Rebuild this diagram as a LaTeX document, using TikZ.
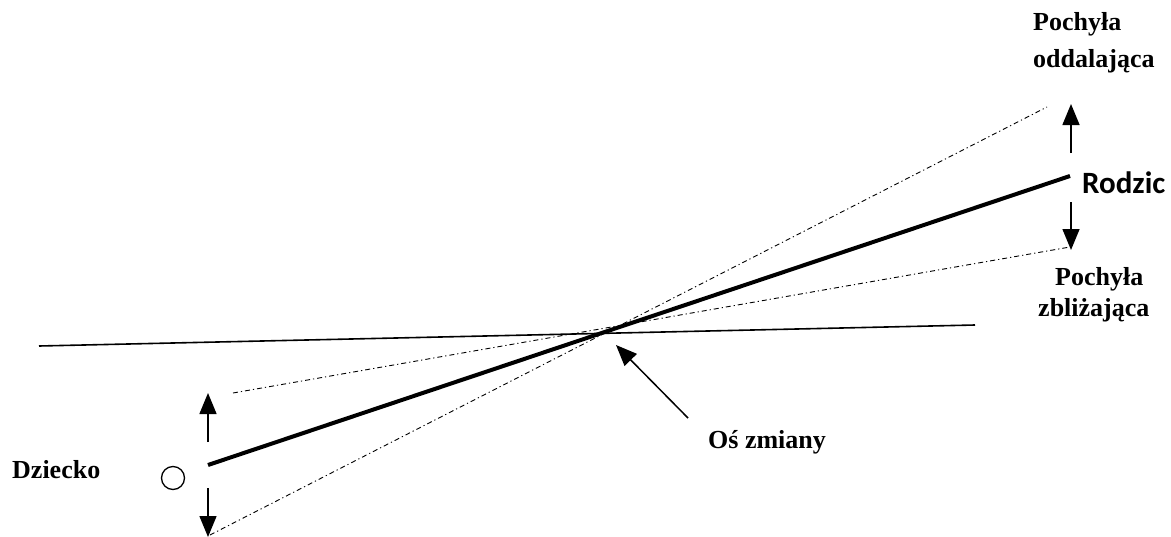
\documentclass[tikz,border=0pt]{standalone}
\usepackage{fontspec}
\setmainfont{Liberation Serif}
\newfontfamily\sansb{Carlito}
\usetikzlibrary{arrows.meta}
\tikzset{
  lbl/.style={font=\fontsize{26}{30}\selectfont\bfseries, inner sep=0pt, anchor=base west},
  slbl/.style={font=\fontsize{31}{35}\selectfont\sansb\bfseries, inner sep=0pt, anchor=base west},
  thinline/.style={line width=1.6pt},
  thickline/.style={line width=4pt},
  dd/.style={line width=0.9pt, dash pattern=on 5pt off 3pt on 1.2pt off 3pt},
  arr/.style={line width=1.5pt, -{Triangle[length=21pt,width=17pt]}},
}
\begin{document}
\begin{tikzpicture}[x=1pt,y=-1pt]
\useasboundingbox (0,0) rectangle (1171,536);
% coordinates
\coordinate (hL) at (39,346);
\coordinate (hR) at (975,325);
\coordinate (tL) at (208,465);
\coordinate (tR) at (1070,176);
\coordinate (uL) at (233,393);
\coordinate (uR) at (1070,247);
\coordinate (lL) at (210,535);
\coordinate (lR) at (1047,107);
\coordinate (rUa) at (1071,153);
\coordinate (rUb) at (1071,104);
\coordinate (rDa) at (1071,202);
\coordinate (rDb) at (1071,250);
\coordinate (lUa) at (208,442);
\coordinate (lUb) at (208,393);
\coordinate (lDa) at (208,488);
\coordinate (lDb) at (208,537);
\coordinate (oA) at (688,418);
\coordinate (oB) at (616,345);
% lines
\draw[thinline] (hL) -- (hR);
\draw[dd] (uL) -- (uR);
\draw[dd] (lL) -- (lR);
\draw[thickline] (tL) -- (tR);
% arrows
\draw[arr] (rUa) -- (rUb);
\draw[arr] (rDa) -- (rDb);
\draw[arr] (lUa) -- (lUb);
\draw[arr] (lDa) -- (lDb);
\draw[arr] (oA) -- (oB);
% circle
\node[draw, circle, line width=1.3pt, minimum size=23pt, inner sep=0pt] (circ) at (173,478) {};
% labels
\node[lbl] (p1) at (1033,30) {Pochyła};
\node[lbl] (p2) at (1033,67) {oddalająca};
\node[slbl] (rod) at (1082,193) {Rodzic};
\node[lbl] (p3) at (1055,285) {Pochyła};
\node[lbl] (p4) at (1038,316) {zbliżająca};
\node[lbl] (dz) at (12,478) {Dziecko};
\node[lbl] (os) at (708,448) {Oś zmiany};
\end{tikzpicture}
\end{document}
